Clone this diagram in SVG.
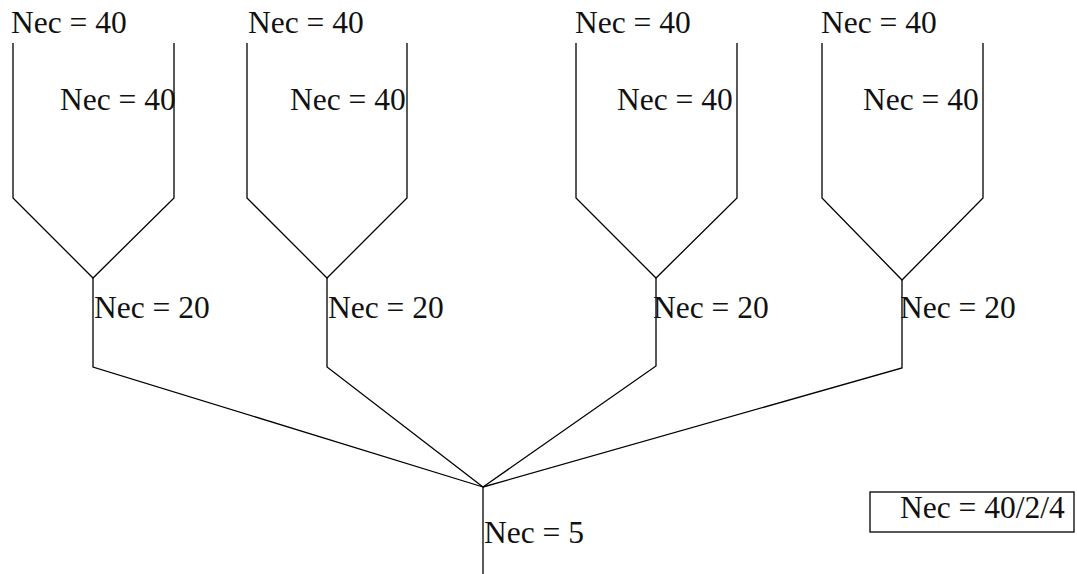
<svg xmlns="http://www.w3.org/2000/svg" width="1077" height="574" viewBox="0 0 1077 574">
<style>
.l{fill:none;stroke:#000;stroke-width:1.3}
.t{font-family:"Liberation Serif",serif;font-size:31.5px;fill:#111}
</style>
<rect width="1077" height="574" fill="#fff"/>
<g id="connectors">
<polyline class="l" points="13,43 13,198 93,278 174,198 174,43"/>
<polyline class="l" points="247,43 247,198 327,278 407,198 407,43"/>
<polyline class="l" points="576,43 576,198 656,278 737,198 737,43"/>
<polyline class="l" points="822,43 822,198 902,280 983,198 983,43"/>
<polyline class="l" points="93,278 93,367 483,487"/>
<polyline class="l" points="327,278 327,367 483,487"/>
<polyline class="l" points="656,278 656,366 483,487"/>
<polyline class="l" points="902,280 902,368 483,487"/>
<line class="l" x1="483" y1="487" x2="483" y2="574"/>
</g>
<g id="labels-top">
<text class="t" x="11" y="33">Nec = 40</text>
<text class="t" x="248" y="33">Nec = 40</text>
<text class="t" x="575" y="33">Nec = 40</text>
<text class="t" x="821" y="33">Nec = 40</text>
</g>
<g id="labels-second">
<text class="t" x="60" y="110">Nec = 40</text>
<text class="t" x="290" y="110">Nec = 40</text>
<text class="t" x="617" y="110">Nec = 40</text>
<text class="t" x="863" y="110">Nec = 40</text>
</g>
<g id="labels-mid">
<text class="t" x="94" y="318">Nec = 20</text>
<text class="t" x="328" y="318">Nec = 20</text>
<text class="t" x="653" y="318">Nec = 20</text>
<text class="t" x="900" y="318">Nec = 20</text>
</g>
<g id="root">
<text class="t" x="484" y="543">Nec = 5</text>
</g>
<g id="legend">
<rect class="l" x="870" y="492" width="204" height="40"/>
<text class="t" x="900" y="518">Nec = 40/2/4</text>
</g>
</svg>
